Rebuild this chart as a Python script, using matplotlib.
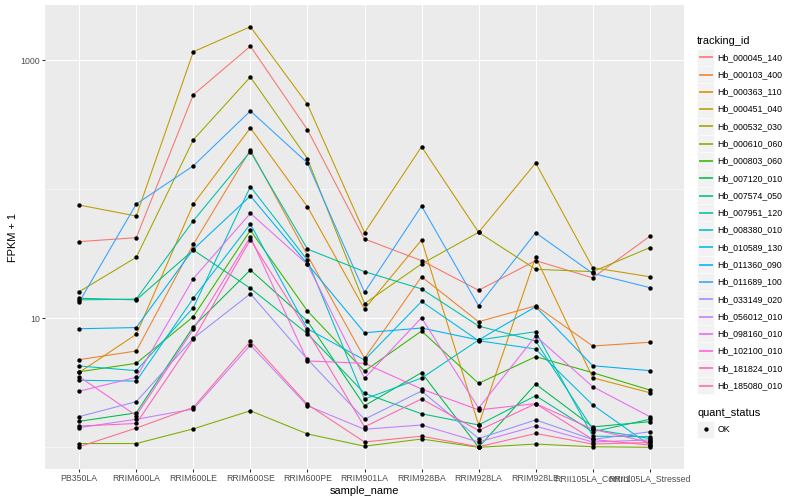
import numpy as np
import matplotlib.pyplot as plt
from matplotlib.patches import Rectangle
from matplotlib.lines import Line2D
from matplotlib.ticker import NullFormatter

plt.rcParams['font.family'] = ['Liberation Sans', 'DejaVu Sans']

# samples on the x axis
samples = ['PB350LA', 'RRIM600LA', 'RRIM600LE', 'RRIM600SE', 'RRIM600PE', 'RRIM901LA',
           'RRIM928BA', 'RRIM928LA', 'RRIM928LE', 'RRII105LA_Control', 'RRII105LA_Stressed']

tracking_ids = ['Hb_000045_140', 'Hb_000103_400', 'Hb_000363_110', 'Hb_000451_040',
                'Hb_000532_030', 'Hb_000610_060', 'Hb_000803_060', 'Hb_007120_010',
                'Hb_007574_050', 'Hb_007951_120', 'Hb_008380_010', 'Hb_010589_130',
                'Hb_011360_090', 'Hb_011689_100', 'Hb_033149_020', 'Hb_056012_010',
                'Hb_098160_010', 'Hb_102100_010', 'Hb_181824_010', 'Hb_185080_010']

# ggplot default hue palette for 20 groups
colors = ['#F8766D', '#EA8331', '#D89000', '#C09B00', '#A3A500', '#7CAE00', '#39B600',
          '#00BB4E', '#00BF7D', '#00C1A3', '#00BFC4', '#00BAE0', '#00B0F6', '#35A2FF',
          '#9590FF', '#C77CFF', '#E76BF3', '#FA62DB', '#FF62BC', '#FF6C91']

# FPKM + 1 per sample
hb_000045_140 = [39.3, 42.2, 541, 1285, 290, 41.2, 28.0, 16.5, 28.0, 20.6, 43.2]
hb_000103_400 = [4.78, 5.58, 37.5, 202, 30.8, 4.90, 21.0, 9.41, 12.5, 6.10, 6.52]
hb_000363_110 = [3.81, 7.52, 76.9, 299, 73.3, 11.8, 40.5, 1.49, 29.9, 3.46, 2.65]
hb_000451_040 = [75.5, 62.1, 1166, 1821, 456, 46.1, 214, 46.4, 160, 24.7, 21.0]
hb_000532_030 = [16.1, 29.7, 242, 743, 173, 13.0, 26.4, 46.4, 24.0, 23.0, 35.3]
hb_000610_060 = [1.07, 1.07, 1.39, 1.92, 1.27, 1.02, 1.16, 1.0, 1.06, 1.01, 1.0]
hb_000803_060 = [3.85, 4.48, 10.3, 48.1, 11.4, 3.90, 7.97, 3.13, 5.04, 3.79, 2.78]
hb_007120_010 = [1.59, 1.85, 8.61, 23.7, 9.53, 2.10, 3.79, 1.0, 3.09, 1.44, 1.58]
hb_007574_050 = [14.3, 13.9, 33.8, 17.1, 7.60, 2.62, 1.82, 1.49, 2.51, 1.32, 1.65]
hb_007951_120 = [13.9, 14.1, 57.1, 196, 34.4, 23.0, 16.9, 8.71, 6.67, 1.38, 1.17]
hb_008380_010 = [4.27, 3.93, 12.1, 105, 28.2, 2.37, 3.44, 6.79, 7.87, 1.22, 1.21]
hb_010589_130 = [3.31, 3.26, 14.3, 53.8, 8.30, 4.75, 13.5, 6.70, 5.78, 2.13, 1.04]
hb_011360_090 = [8.30, 8.48, 34.3, 88.8, 26.4, 7.73, 8.41, 6.79, 12.3, 4.29, 3.93]
hb_011689_100 = [13.4, 76.9, 152, 405, 160, 15.9, 74.2, 12.5, 46.1, 22.3, 17.3]
hb_033149_020 = [1.73, 2.26, 7.0, 15.5, 4.81, 1.65, 2.73, 1.17, 1.63, 1.15, 1.32]
hb_056012_010 = [1.42, 1.65, 1.98, 6.21, 2.10, 1.38, 1.49, 1.10, 1.46, 1.10, 1.14]
hb_098160_010 = [2.72, 3.49, 20.3, 65.2, 26.2, 3.43, 10.1, 2.01, 7.29, 2.95, 1.73]
hb_102100_010 = [3.53, 1.76, 8.22, 42.7, 4.67, 4.48, 2.83, 1.95, 2.18, 1.38, 1.09]
hb_181824_010 = [1.46, 1.53, 6.87, 40.7, 7.97, 1.44, 2.37, 1.35, 2.18, 1.15, 1.04]
hb_185080_010 = [1.01, 1.41, 2.04, 6.63, 2.15, 1.10, 1.22, 1.01, 1.28, 1.06, 1.09]

series = [hb_000045_140, hb_000103_400, hb_000363_110, hb_000451_040, hb_000532_030,
          hb_000610_060, hb_000803_060, hb_007120_010, hb_007574_050, hb_007951_120,
          hb_008380_010, hb_010589_130, hb_011360_090, hb_011689_100, hb_033149_020,
          hb_056012_010, hb_098160_010, hb_102100_010, hb_181824_010, hb_185080_010]

W, H = 800, 500
fig = plt.figure(figsize=(W / 72, H / 72), dpi=72)
fig.patch.set_facecolor('white')
ax = fig.add_axes([45 / W, 1 - 469 / H, (684 - 45) / W, (469 - 5) / H])
ax.set_facecolor('#EBEBEB')

x = np.arange(len(samples))
for vals, col in zip(series, colors):
    ax.plot(x, vals, color=col, lw=1.07, zorder=2, solid_capstyle='butt')
for vals in series:
    ax.plot(x, vals, 'o', color='black', ms=4.4, mew=0, zorder=3)

ax.set_yscale('log')
ax.set_xlim(-0.6, 10.6)
ax.set_ylim(0.679, 2684)
ax.set_xticks(x, samples)
ax.set_yticks([10, 1000], ['10', '1000'])
ax.set_yticks([1, 100], minor=True)
ax.yaxis.set_minor_formatter(NullFormatter())

ax.set_axisbelow(True)
ax.grid(which='major', color='white', lw=1.07)
ax.grid(which='minor', axis='y', color='white', lw=0.53)
for s in ax.spines.values():
    s.set_visible(False)
ax.tick_params(which='major', length=2.75, width=1.07, color='#333333',
               labelcolor='#4D4D4D', labelsize=8.8, pad=2.2)
ax.tick_params(which='minor', length=0)

ax.set_xlabel('sample_name', fontsize=11, labelpad=2.75)
ax.set_ylabel('FPKM + 1', fontsize=11, labelpad=2.75)

# legend drawn by hand in pixel positions, ggplot style
def fx(px):
    return px / W

def fy(py):
    return 1 - py / H

key = 17.28
kx = 697
fig.text(fx(kx), fy(40.5), 'tracking_id', fontsize=11, va='center', ha='left')
for i, (name, col) in enumerate(zip(tracking_ids, colors)):
    cy = 57.3 + i * key
    fig.add_artist(Rectangle((fx(kx), fy(cy + key / 2)), key / W, key / H,
                             transform=fig.transFigure, facecolor='#F2F2F2',
                             edgecolor='white', lw=0.5, zorder=1))
    fig.add_artist(Line2D([fx(kx + 1.7), fx(kx + key - 1.7)], [fy(cy), fy(cy)],
                          transform=fig.transFigure, color=col, lw=1.6,
                          solid_capstyle='butt', zorder=5))
    fig.text(fx(kx + key + 3), fy(cy), name, fontsize=8.8, va='center', ha='left')

fig.text(fx(kx), fy(412.7), 'quant_status', fontsize=11, va='center', ha='left')
cy = 429.3
fig.add_artist(Rectangle((fx(kx), fy(cy + key / 2)), key / W, key / H,
                         transform=fig.transFigure, facecolor='#F2F2F2',
                         edgecolor='white', lw=0.5, zorder=1))
fig.add_artist(Line2D([fx(kx + key / 2)], [fy(cy)], transform=fig.transFigure,
                      marker='o', color='black', ms=4.4, mew=0, zorder=5))
fig.text(fx(kx + key + 3), fy(cy), 'OK', fontsize=8.8, va='center', ha='left')

fig.savefig('out.png', dpi=72)
